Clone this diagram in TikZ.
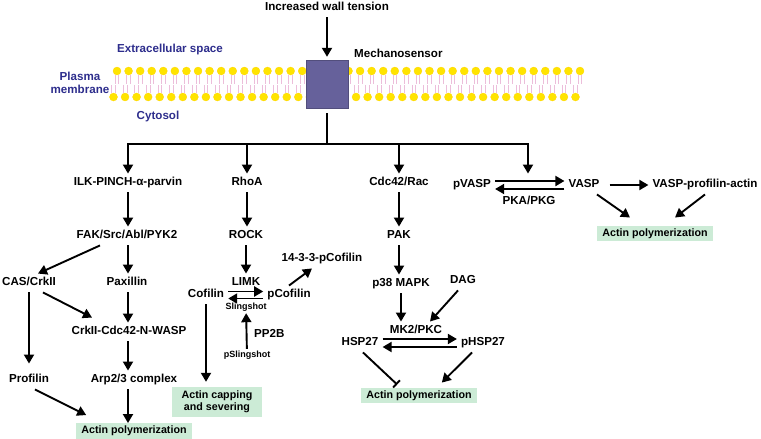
\documentclass[tikz,border=0pt]{standalone}
\usepackage{fontspec}
\setmainfont{Liberation Sans}
\usetikzlibrary{arrows.meta}
\usetikzlibrary{positioning}
\definecolor{regionblue}{RGB}{45,45,140}
\definecolor{sensorviolet}{RGB}{102,97,155}
\definecolor{headyellow}{RGB}{255,228,0}
\definecolor{tailpink}{RGB}{236,190,218}
\definecolor{actingreen}{RGB}{204,235,214}
\tikzset{arr/.style = {->, line width=1.9pt}}
\tikzset{inh/.style = {-{Bar[width=10pt, line width=1.9pt]}, line width=1.9pt}}
\tikzset{prot/.style = {font=\bfseries\fontsize{11.6}{13}\selectfont, inner sep=4pt,
                        text height=8pt, text depth=2.5pt}}
\tikzset{small/.style = {font=\bfseries\fontsize{9}{10}\selectfont, inner sep=2pt,
                         text height=6pt, text depth=2pt}}
\tikzset{region/.style = {font=\bfseries\fontsize{11.6}{13}\selectfont, text=regionblue,
                          align=center}}
\tikzset{greenbox/.style = {fill=actingreen, font=\bfseries\fontsize{10.7}{11.5}\selectfont}}
\tikzset{actinbox/.style = {greenbox, inner xsep=5pt, inner ysep=2.5pt,
                            text height=8pt, text depth=2.5pt}}
\tikzset{head/.style = {fill=headyellow, draw=headyellow!85!orange, line width=0.3pt}}
\begin{document}
\begin{tikzpicture}[x=1pt, y=-1pt, >={Triangle[length=9pt, width=10pt]}]
      \useasboundingbox (0,0) rectangle (761,439);
      \foreach \i in {0,...,40} {
        \draw [tailpink, line width=0.7pt] (115.2+11.575*\i, 75) -- ++(0,9)
                                            (118.8+11.575*\i, 75) -- ++(0,9);
        \draw [tailpink, line width=0.7pt] (111.7+11.55*\i, 85) -- ++(0,8)
                                            (115.3+11.55*\i, 85) -- ++(0,8);
        \draw [head] (117+11.575*\i, 71) circle [radius=4pt];
        \draw [head] (113.5+11.55*\i, 97) circle [radius=4pt];
      }
      \node [draw=sensorviolet!80!black, fill=sensorviolet, minimum width=42pt,
             minimum height=48pt, inner sep=0] (sensor) at (327,84) {};
      \node [prot] (tension) at (327,8) {Increased wall tension};
      \node [prot, anchor=west] (mech) at (350,55) {Mechanosensor};
      \node [region] (extra) at (170,49) {Extracellular space};
      \node [region] (plasma) at (80,83) {Plasma\\membrane};
      \node [region] (cyto) at (158,116) {Cytosol};
      \coordinate (hub) at (327,144);
      \coordinate (barR) at (528,144);

      \node [prot] (ilk) at (128,183) {ILK-PINCH-α-parvin};
      \node [prot] (fak) at (127,236) {FAK/Src/Abl/PYK2};
      \node [prot] (cas) at (29,283) {CAS/CrkII};
      \node [prot] (pax) at (127,283) {Paxillin};
      \node [prot] (crk) at (129,332) {CrkII-Cdc42-N-WASP};
      \node [prot] (prof) at (29,380) {Profilin};
      \node [prot] (arp) at (134,380) {Arp2/3 complex};
      \node [actinbox] (actinA) at (134,431) {Actin polymerization};

      \node [prot] (rhoa) at (247,183) {RhoA};
      \node [prot] (rock) at (246,236) {ROCK};
      \node [prot] (limk) at (246,283) {LIMK};
      \node [prot] (cof) at (206,295) {Cofilin};
      \node [prot] (pcof) at (289,295) {pCofilin};
      \node [prot] (p1433) at (322,259) {14-3-3-pCofilin};
      \node [small] (ssh) at (246,307) {Slingshot};
      \node [small] (pssh) at (247,355) {pSlingshot};
      \node [prot, anchor=west] (pp2b) at (250,335) {PP2B};
      \node [greenbox, align=center, minimum width=90pt, minimum height=30pt]
            (capping) at (217,402) {Actin capping\\and severing};

      \node [prot] (cdc) at (399,183) {Cdc42/Rac};
      \node [prot] (pak) at (399,236) {PAK};
      \node [prot] (p38) at (401,284) {p38 MAPK};
      \node [prot] (dag) at (463,281) {DAG};
      \node [prot] (mk2) at (416,331) {MK2/PKC};
      \node [prot] (hsp) at (360,343) {HSP27};
      \node [prot] (phsp) at (483,343) {pHSP27};
      \node [actinbox] (actinC) at (419,395.5) {Actin polymerization};

      \node [prot] (pvasp) at (472,185) {pVASP};
      \node [prot] (vasp) at (584,185) {VASP};
      \node [prot] (vpa) at (705,185) {VASP-profilin-actin};
      \node [prot] (pkg) at (529,202) {PKA/PKG};
      \node [actinbox] (actinD) at (655,233.5) {Actin polymerization};

      \draw [arr, shorten >=3pt] (tension) -- (sensor);
      \draw [line width=1.9pt, shorten <=5pt] (sensor) -- (hub);
      \draw [<->, line width=1.9pt, shorten >=2pt] (ilk.north) |- (barR) -- (barR |- pvasp.north);
      \foreach \n in {rhoa, cdc}
        \draw [arr] (\n.north |- hub) -- (\n.north);

      \draw [arr] (ilk.south) -- (ilk.south |- fak.north);
      \draw [arr] (ilk.south |- fak.south) -- (ilk.south |- pax.north);
      \draw [arr] ([xshift=-27pt]fak.south) -- ([xshift=9pt]cas.north);
      \draw [arr, shorten >=7pt] (cas) -- (prof);
      \draw [arr] ([xshift=14pt]cas.south) -- ([xshift=-37pt, yshift=5pt]crk.north);
      \draw [arr] (ilk.south |- pax.south) -- (ilk.south |- crk.north);
      \draw [arr] (ilk.south |- crk.south) -- (ilk.south |- arp.north);
      \draw [arr] (ilk.south |- arp.south) -- (ilk.south |- actinA.north);
      \draw [arr] ([xshift=6pt]prof.south) -- ([xshift=10pt, yshift=8pt]actinA.north west);

      \draw [arr] (rhoa.south) -- (rhoa.south |- rock.north);
      \draw [arr] (rock.south) -- (rock.south |- limk.north);
      \draw [arr] ([yshift=3.5pt]cof.east) -- ([yshift=3.5pt]pcof.west);
      \draw [arr] ([yshift=-3.5pt]pcof.west) -- ([yshift=-3.5pt]cof.east);
      \draw [arr] (pcof.north) -- ([xshift=-10pt]p1433.south);
      \draw [arr] (pssh) -- (ssh);
      \draw [arr, shorten >=5pt] (cof.south) -- (cof.south |- capping.north);

      \draw [arr] (cdc) -- (pak);
      \draw [arr] (pak.south) -- (pak.south |- p38.north);
      \draw [arr] (p38.south) -- (p38.south |- mk2.north);
      \draw [arr] ([xshift=-5pt]dag.south) -- ([xshift=14pt]mk2.north);
      \draw [arr] ([yshift=4pt]hsp.east) -- ([yshift=4pt]phsp.west);
      \draw [arr] ([yshift=-4pt]phsp.west) -- ([yshift=-4pt]hsp.east);
      \draw [inh] ([xshift=3pt]hsp.south) -- ([xshift=36pt, yshift=3pt]actinC.north west);
      \draw [arr] ([xshift=-11pt]phsp.south) -- ([xshift=-35pt, yshift=5pt]actinC.north east);

      \draw [arr] ([yshift=4pt]pvasp.east) -- ([yshift=4pt]vasp.west);
      \draw [arr] ([yshift=-4pt]vasp.west) -- ([yshift=-4pt]pvasp.east);
      \draw [arr, shorten <=6pt] (vasp) -- (vpa);
      \draw [arr] ([xshift=13pt]vasp.south) -- ([xshift=-25pt, yshift=8pt]actinD.north);
      \draw [arr] (vpa.south) -- ([xshift=20pt, yshift=8pt]actinD.north);
\end{tikzpicture}
\end{document}
